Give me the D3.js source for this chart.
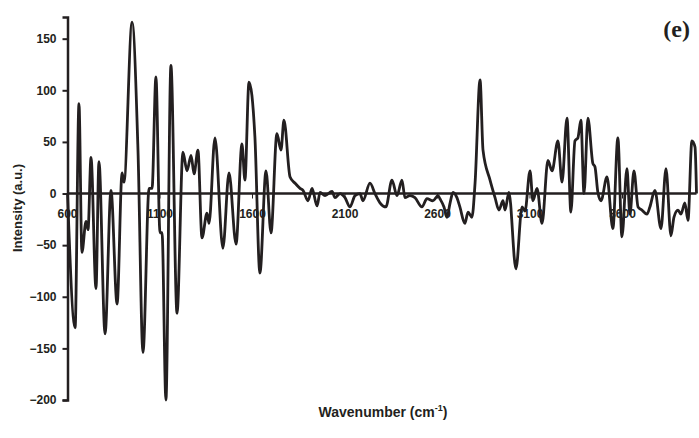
<!DOCTYPE html>
<html>
<head>
<meta charset="utf-8">
<script src="https://cdn.jsdelivr.net/npm/d3@7"></script>
<style>
  body { margin: 0; background: #fff; }
</style>
</head>
<body>
<div id="chart"></div>
<script>
const width = 699
const height = 438

// spectrum
const wavenumbers = [600, 641, 662, 678, 700, 711, 727, 754, 770, 803, 835, 868, 895, 905, 949, 981,
	1008, 1041, 1057, 1078, 1100, 1111, 1132, 1159, 1192, 1224, 1246, 1268, 1284, 1305, 1327, 1354,
	1365, 1397, 1440, 1473, 1511, 1543, 1559, 1581, 1613, 1640, 1673, 1700, 1732, 1754, 1770, 1803,
	1830, 1857, 1873, 1900, 1922, 1949, 1965, 1992, 2030, 2046, 2073, 2100, 2127, 2154, 2181, 2197,
	2235, 2262, 2289, 2321, 2354, 2381, 2408, 2424, 2451, 2478, 2516, 2543, 2575, 2603, 2613, 2635,
	2651, 2667, 2684, 2705, 2721, 2748, 2765, 2786, 2803, 2830, 2846, 2884, 2911, 2932, 2954, 2965,
	2986, 3024, 3057, 3073, 3100, 3116, 3138, 3165, 3197, 3219, 3251, 3273, 3300, 3321, 3343, 3359,
	3375, 3392, 3413, 3440, 3451, 3467, 3484, 3516, 3548, 3575, 3597, 3624, 3640, 3662, 3684, 3705,
	3732, 3748, 3775, 3808, 3835, 3862, 3878, 3900, 3916, 3937, 3954, 3975, 3992, 4000]
const intensities = [0, -130, 87, -57, -27, -35, 35, -92, 31, -136, 3, -107, 20, 11, 166, 42,
	-154, 5, 5, 113, -38, -38, -200, 124, -116, 40, 22, 37, 19, 42, -43, -19,
	-29, 54, -53, 20, -49, 48, 13, 108, 55, -77, 22, -38, 58, 42, 71, 16,
	10, 5, 3, -7, 5, -12, 1, -2, 2, -4, 0, -4, -13, -2, 0, -7,
	10, 0, -9, -13, 13, -2, 13, -4, -2, -4, -13, -5, -7, -2, -5, -13,
	-23, -10, 1, -4, -13, -29, -18, -23, 10, 110, 42, 13, -4, -16, -7, -16,
	1, -73, -13, -17, 22, -7, 5, -29, 32, 22, 51, 11, 73, -18, 51, 54,
	71, 0, 73, 29, 26, 1, -7, 16, -34, 54, -42, 24, -20, 22, -13, -16,
	-20, -13, 3, -34, 24, -41, -23, -16, -20, -9, -26, 51, 45, 0]

const x_ticks = [600, 1100, 1600, 2100, 2600, 3100, 3600]
const y_ticks = [-200, -150, -100, -50, 0, 50, 100, 150]

const sans = "Liberation Sans, Arial, sans-serif"
const ink = "#231f20"

const spectrum = wavenumbers.map((w, i) => ({w: w, v: intensities[i]}))

var svg = d3.select("#chart")
	.append("svg")
	.attr("width", width)
	.attr("height", height)

var x = d3.scaleLinear().domain([600, 4000]).range([67.5, 696.5])
var y = d3.scaleLinear().domain([-200, 171]).range([400, 17])

// y axis
var yaxis = svg.append("g")
	.attr("transform", "translate(" + x(600) + ",0)")
	.call(d3.axisLeft(y).tickValues(y_ticks).tickSize(5).tickPadding(6).tickFormat(d3.format("d")))
yaxis.select(".domain").attr("stroke", ink).attr("stroke-width", 2.5)
yaxis.selectAll(".tick line").attr("stroke", ink).attr("stroke-width", 2)
yaxis.selectAll(".tick text")
	.style("font-family", sans)
	.style("font-size", "12px")
	.style("font-weight", "bold")
	.attr("fill", ink)

// x tick labels sit just below the zero line
var xlabels = svg.selectAll(".xlabel")
	.data(x_ticks)
	.enter().append("text")
	.attr("class", "xlabel")
	.attr("x", d => x(d))
	.attr("y", y(0) + 24)
	.attr("text-anchor", "middle")
	.style("font-family", sans)
	.style("font-size", "12px")
	.style("font-weight", "bold")
	.attr("fill", ink)
	.text(d => d)

var xticks = svg.selectAll(".xtick")
	.data(x_ticks)
	.enter().append("line")
	.attr("class", "xtick")
	.attr("x1", d => x(d))
	.attr("x2", d => x(d))
	.attr("y1", y(0))
	.attr("y2", y(0) + 5)
	.attr("stroke", ink)
	.attr("stroke-width", 1)

// zero line
svg.append("line")
	.attr("x1", x(600))
	.attr("x2", x(4000))
	.attr("y1", y(0))
	.attr("y2", y(0))
	.attr("stroke", ink)
	.attr("stroke-width", 2.5)

var line = d3.line()
	.x(d => x(d.w))
	.y(d => y(d.v))
	.curve(d3.curveMonotoneX)

svg.append("path")
	.datum(spectrum)
	.attr("d", line)
	.attr("fill", "none")
	.attr("stroke", ink)
	.attr("stroke-width", 2.8)
	.attr("stroke-linejoin", "round")

// axis titles
svg.append("text")
	.attr("transform", "translate(22,208) rotate(-90)")
	.attr("text-anchor", "middle")
	.style("font-family", sans)
	.style("font-size", "13px")
	.style("font-weight", "bold")
	.attr("fill", ink)
	.text("Intensity (a.u.)")

var xtitle = svg.append("text")
	.attr("x", 383)
	.attr("y", 417)
	.attr("text-anchor", "middle")
	.style("font-family", sans)
	.style("font-size", "14px")
	.style("font-weight", "bold")
	.attr("fill", ink)
xtitle.append("tspan").text("Wavenumber (cm")
xtitle.append("tspan").attr("dy", -6).style("font-size", "9px").text("-1")
xtitle.append("tspan").attr("dy", 6).text(")")

svg.append("text")
	.attr("x", 690)
	.attr("y", 37)
	.attr("text-anchor", "end")
	.style("font-family", "Liberation Serif, Times New Roman, serif")
	.style("font-size", "24px")
	.style("font-weight", "bold")
	.attr("fill", ink)
	.text("(e)")
</script>
</body>
</html>
